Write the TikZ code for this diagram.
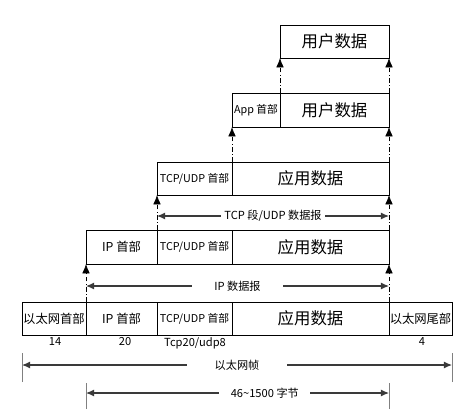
\documentclass[tikz,border=0pt]{standalone}
\usepackage{fontspec}
\setmainfont{Noto Sans CJK SC}
\usetikzlibrary{arrows.meta}
\newlength\pxu
\setlength\pxu{0.03cm}
\definecolor{dimgray}{HTML}{3A3A3A}
\tikzset{
  field/.style={draw, line width=0.7pt, inner sep=0pt, outer sep=0pt, anchor=north west},
  bigtext/.style={font=\fontsize{14}{16}\selectfont},
  hdrtext/.style={font=\fontsize{9.2}{11}\selectfont},
  midtext/.style={font=\fontsize{10.5}{12}\selectfont},
  up/.style={line width=0.6pt, dash pattern=on 4pt off 2pt on 0.8pt off 2pt, -{Latex[length=8pt,width=6.5pt]}},
  dimarrow/.style={draw=dimgray, line width=0.9pt, {Latex[length=7pt,width=6pt]}-{Latex[length=7pt,width=6pt]}},
  dimlabel/.style={fill=white, font=\fontsize{9.5}{11}\selectfont, inner ysep=1pt},
  tick/.style={draw=gray, line width=0.7pt},
  num/.style={font=\fontsize{9.5}{11}\selectfont, anchor=north, inner sep=1pt},
}
\begin{document}
\begin{tikzpicture}[x=1\pxu, y=-1\pxu]
\useasboundingbox (0,0) rectangle (461,416);

% user data
\node[field, bigtext, minimum width=109\pxu, minimum height=33\pxu] (u1) at (280,25) {用户数据};

% application layer
\node[field, hdrtext, minimum width=48\pxu, minimum height=34\pxu] (a2) at (232,93) {App 首部};
\node[field, bigtext, minimum width=109\pxu, minimum height=34\pxu] (u2) at (280,93) {用户数据};

% transport layer
\node[field, hdrtext, minimum width=75\pxu, minimum height=33\pxu] (t3) at (157,162) {TCP/UDP 首部};
\node[field, bigtext, minimum width=157\pxu, minimum height=33\pxu] (d3) at (232,162) {应用数据};

% network layer
\node[field, midtext, minimum width=71\pxu, minimum height=34\pxu] (i4) at (86,230) {IP 首部};
\node[field, hdrtext, minimum width=75\pxu, minimum height=34\pxu] (t4) at (157,230) {TCP/UDP 首部};
\node[field, bigtext, minimum width=157\pxu, minimum height=34\pxu] (d4) at (232,230) {应用数据};

% link layer
\node[field, midtext, minimum width=64\pxu, minimum height=33\pxu] (e5) at (22,302) {以太网首部};
\node[field, midtext, minimum width=71\pxu, minimum height=33\pxu] (i5) at (86,302) {IP 首部};
\node[field, hdrtext, minimum width=75\pxu, minimum height=33\pxu] (t5) at (157,302) {TCP/UDP 首部};
\node[field, bigtext, minimum width=157\pxu, minimum height=33\pxu] (d5) at (232,302) {应用数据};
\node[field, midtext, minimum width=63\pxu, minimum height=33\pxu] (f5) at (389,302) {以太网尾部};

% sizes
\node[num] (n14) at (55,336) {14};
\node[num] (n20) at (125,336) {20};
\node[num] (ntcp) at (195,336) {Tcp20/udp8};
\node[num] (n4) at (422,336) {4};

% encapsulation
\draw[up] (u2.north west) -- (u1.south west);
\draw[up] (u2.north east) -- (u1.south east);
\draw[up] (d3.north west) -- (a2.south west);
\draw[up] (d3.north east) -- (u2.south east);
\draw[up] (t4.north west) -- (t3.south west);
\draw[up] (d4.north east) -- (d3.south east);
\draw[up] (i5.north west) -- (i4.south west);
\draw[up] (d5.north east) -- (d4.south east);

% spans
\coordinate (segL) at (157,216);
\coordinate (segR) at (389,216);
\coordinate (ipL) at (86,286);
\coordinate (ipR) at (389,286);
\coordinate (frL) at (22,365);
\coordinate (frR) at (452,365);
\coordinate (plL) at (86,393);
\coordinate (plR) at (389,393);

\draw[dimarrow] (segL) -- node[dimlabel, inner xsep=3pt] {TCP 段/UDP 数据报} (segR);
\draw[dimarrow] (ipL) -- node[dimlabel, inner xsep=19pt] {IP 数据报} (ipR);
\draw[dimarrow] (frL) -- node[dimlabel, inner xsep=24pt] {以太网帧} (frR);
\draw[dimarrow] (plL) -- node[dimlabel, inner xsep=10pt, pos=0.59] {46\textasciitilde1500 字节} (plR);

\draw[tick] ([yshift=-17\pxu]frL) -- ([yshift=12\pxu]frL);
\draw[tick] ([yshift=-17\pxu]frR) -- ([yshift=12\pxu]frR);
\draw[tick] ([yshift=-16\pxu]plL) -- ([yshift=10\pxu]plL);
\draw[tick] ([yshift=-16\pxu]plR) -- ([yshift=10\pxu]plR);
\end{tikzpicture}
\end{document}
